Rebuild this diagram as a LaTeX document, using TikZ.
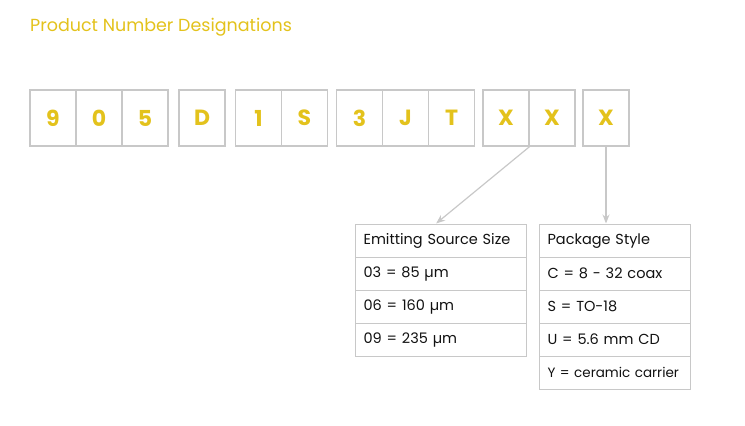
\documentclass[tikz,border=0pt]{standalone}
\usepackage{fontspec}
\setmainfont{Poppins}
\usetikzlibrary{arrows.meta}
\definecolor{pnyellow}{HTML}{E3C21C}
\definecolor{pngray}{HTML}{C8C8C8}
\definecolor{pntext}{HTML}{111111}

\begin{document}
\begin{tikzpicture}[x=1pt,y=-1pt,
		digit/.style={draw=pngray, line width=1.2pt, minimum width=46pt, minimum height=56pt, inner sep=0pt, text=pnyellow, font=\fontsize{22}{22}\selectfont\bfseries},
		cell/.style={draw=pngray, line width=1.2pt, minimum height=33pt, inner xsep=8pt, inner ysep=0pt, text=pntext, anchor=north west, align=left, text width=#1, font=\fontsize{14.5}{14.5}\selectfont},
		link/.style={draw=pngray, line width=1.2pt, -{Stealth[length=9pt,width=7pt]}}]
		\useasboundingbox (0,0) rectangle (745,426);
		%\draw[help lines] (0,0) grid[step=50] (745,426);
		\node[anchor=base west, text=pnyellow, font=\fontsize{17.5}{17.5}\selectfont, inner sep=0pt] (title) at (30,31) {Product Number Designations};
		
		\node[digit] (d1) at (53,118) {9};%series
		\node[digit] (d2) at (99,118) {0};
		\node[digit] (d3) at (145,118) {5};
		\node[digit] (d4) at (202,118) {D};
		\node[digit] (d5) at (258.5,118) {1};
		\node[digit] (d6) at (304.5,118) {S};
		\node[digit] (d7) at (359.5,118) {3};
		\node[digit] (d8) at (405.5,118) {J};
		\node[digit] (d9) at (451.5,118) {T};
		\node[digit] (src1) at (506,118) {X};%source size
		\node[digit] (src2) at (552,118) {X};
		\node[digit] (pkg) at (606,118) {X};%package
		
		\node[cell=155pt] (srchead) at (355,223.5) {Emitting Source Size};
		\node[cell=155pt] (src03) at (355,256.5) {03 = 85 µm};
		\node[cell=155pt] (src06) at (355,289.5) {06 = 160 µm};
		\node[cell=155pt] (src09) at (355,322.5) {09 = 235 µm};
		
		\node[cell=135pt] (pkghead) at (539,223.5) {Package Style};
		\node[cell=135pt] (pkgc) at (539,256.5) {C = 8 - 32 coax};
		\node[cell=135pt] (pkgs) at (539,289.5) {S = TO-18};
		\node[cell=135pt] (pkgu) at (539,322.5) {U = 5.6 mm CD};
		\node[cell=135pt, font=\fontsize{13.5}{13.5}\selectfont] (pkgy) at (539,355.5) {Y = ceramic carrier};
		
		\draw[link] (src1.south east) -- ([xshift=-5pt]srchead.north);
		\draw[link] (pkg.south) -- (pkg.south |- pkghead.north);
\end{tikzpicture}
\end{document}
